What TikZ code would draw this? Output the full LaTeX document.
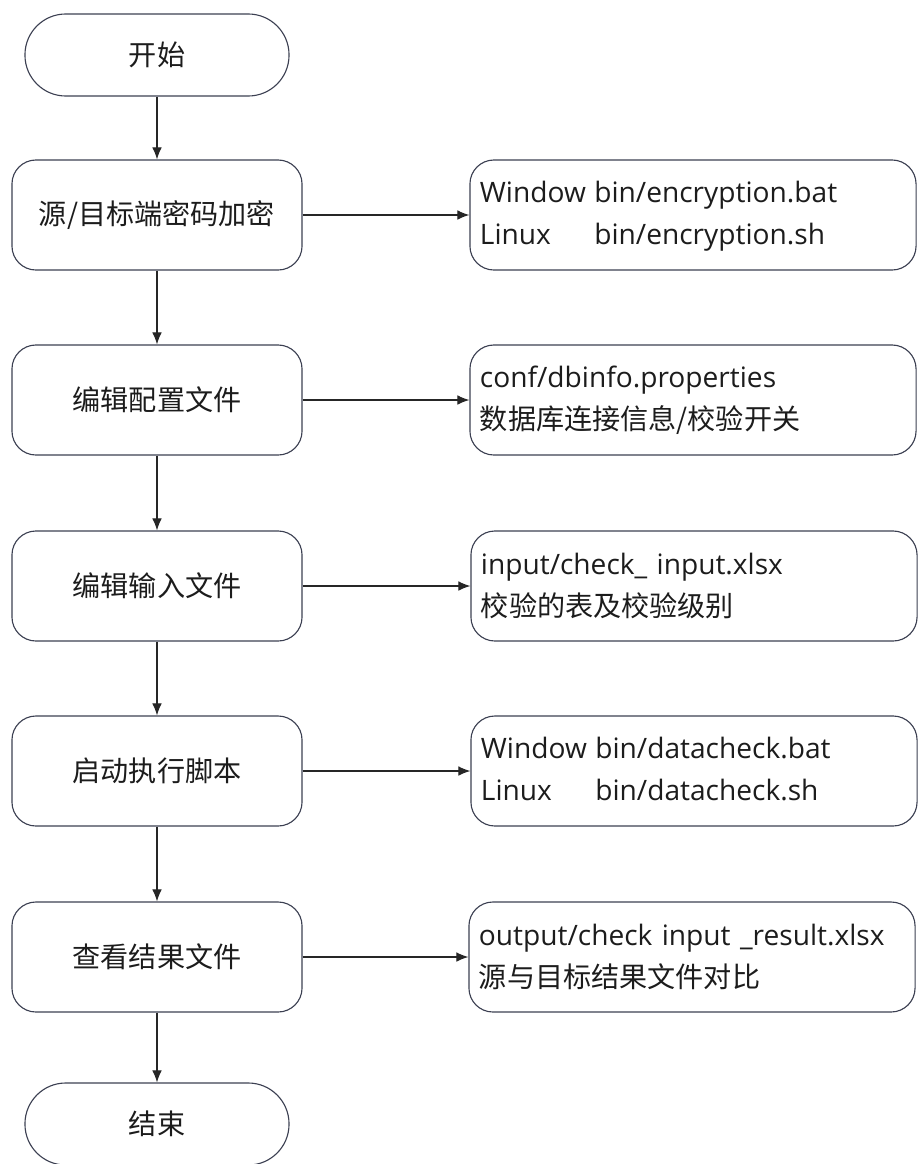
\documentclass[tikz,border=0pt]{standalone}
\usepackage{fontspec}
\setmainfont{Open Sans}
\newfontfamily\cjk{Noto Sans CJK SC}
\usetikzlibrary{arrows.meta}
\definecolor{linecol}{HTML}{3C4052}
\definecolor{textcol}{HTML}{1C1C1C}

\begin{document}
\begin{tikzpicture}[x=0.025cm,y=-0.025cm,>=Latex,
  font=\fontsize{20}{30}\selectfont,text=textcol,
  termbox/.style={draw=linecol,line width=0.8pt,rounded corners=1.02cm,minimum width=6.6cm,minimum height=2.05cm,inner sep=0pt},
  stepbox/.style={draw=linecol,line width=0.8pt,rounded corners=0.6cm,minimum width=7.25cm,minimum height=2.75cm,inner sep=0pt},
  notebox/.style={draw=linecol,line width=0.8pt,rounded corners=0.6cm,minimum width=11.15cm,minimum height=2.75cm,inner xsep=0.25cm,inner ysep=0pt,text width=10.65cm,align=left},
  flow/.style={->,line width=0.8pt,draw=black!85,-{Latex[length=3mm,width=2.4mm]}}]
\useasboundingbox (0,0) rectangle (918,1164);
% main column
\node[termbox] (start) at (157,55) {\cjk 开始};
\node[stepbox] (encrypt) at (157,215) {\cjk 源/目标端密码加密};
\node[stepbox] (config) at (157,400) {\cjk 编辑配置文件};
\node[stepbox] (input) at (157,586) {\cjk 编辑输入文件};
\node[stepbox] (run) at (157,771) {\cjk 启动执行脚本};
\node[stepbox] (result) at (157,957) {\cjk 查看结果文件};
\node[termbox] (stop) at (157,1124) {\cjk 结束};
% notes
\node[notebox] (encrypt_n) at (693,215) {\begin{tabular}{@{}l@{\hspace{0.3em}}l@{}}Window & bin/encryption.bat\\ Linux & bin/encryption.sh\end{tabular}};
\node[notebox] (config_n) at (693,400) {conf/dbinfo.properties\\ {\cjk 数据库连接信息/校验开关}};
\node[notebox] (input_n) at (694,586) {input/check\_ input.xlsx\\ {\cjk 校验的表及校验级别}};
\node[notebox] (run_n) at (694,771) {\begin{tabular}{@{}l@{\hspace{0.3em}}l@{}}Window & bin/datacheck.bat\\ Linux & bin/datacheck.sh\end{tabular}};
\node[notebox] (result_n) at (692,957) {output/check input \_result.xlsx\\ {\cjk 源与目标结果文件对比}};
% connectors
\draw[flow] (start) -- (encrypt);
\draw[flow] (encrypt) -- (config);
\draw[flow] (config) -- (input);
\draw[flow] (input) -- (run);
\draw[flow] (run) -- (result);
\draw[flow] (result) -- (stop);
\draw[flow] (encrypt) -- (encrypt_n);
\draw[flow] (config) -- (config_n);
\draw[flow] (input) -- (input_n);
\draw[flow] (run) -- (run_n);
\draw[flow] (result) -- (result_n);
\end{tikzpicture}
\end{document}
